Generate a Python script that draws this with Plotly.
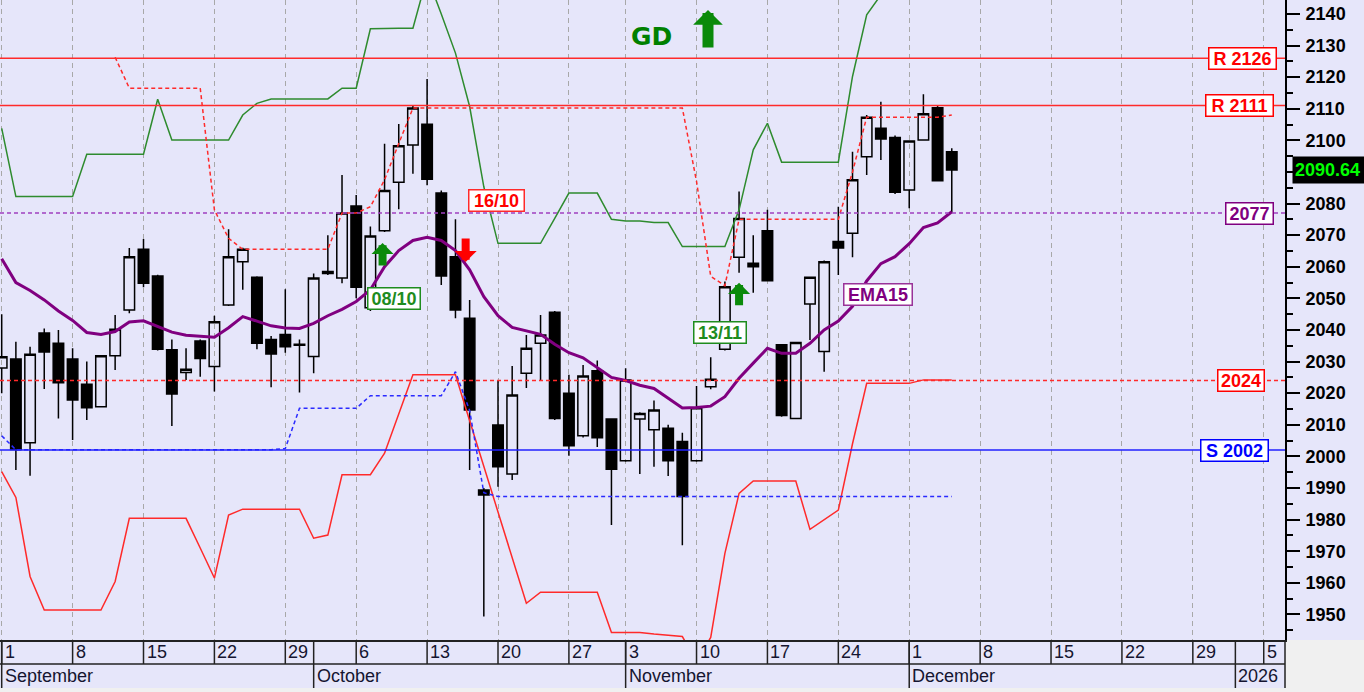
import pandas as pd
import plotly.graph_objects as go

# ---------------- data ----------------
ticker = "GD"
holidays = ["2025-10-28"]
calendar = pd.bdate_range("2025-09-01", "2026-01-09", freq="C", holidays=holidays)
cal_index = {d.strftime("%Y-%m-%d"): i for i, d in enumerate(calendar)}

opens = [2028, 2030.8, 2004.3, 2039, 2035.8, 2030.8, 2022.8, 2015.7, 2031.8, 2046.3,
         2065.5, 2057.1, 2033.7, 2026.5, 2036.5, 2028.4, 2047.9, 2061.6, 2056.7, 2037,
         2038.6, 2035.5, 2031.6, 2058.5, 2056.4, 2079.2, 2047, 2071.4, 2086.7, 2098.5,
         2105.1, 2083.3, 2063.2, 2043.7, 1989.4, 2009.9, 1994.4, 2026.3, 2035.8, 2045.6,
         2020, 2006.5, 2027.1, 2011.8, 1998.6, 2011.8, 2008.4, 2008.9, 2004.7, 1998.6,
         2022, 2033.9, 2063, 2061.1, 2071.4, 2035.3, 2012, 2048.2, 2033.2, 2068,
         2070.6, 2094.8, 2103.8, 2100.9, 2084.3, 2100.1, 2110.3, 2096.4]
highs = [2045, 2036.3, 2034.7, 2040.5, 2040, 2034.2, 2030, 2032, 2044.7, 2065.9,
         2068.8, 2057.5, 2037, 2034.2, 2037, 2044.5, 2071.9, 2066, 2057, 2038.1,
         2052.9, 2037, 2057.9, 2070, 2089, 2082.7, 2072.7, 2098.9, 2105.2, 2110.9,
         2119.4, 2084.1, 2075, 2049.5, 1990, 2024.2, 2028.6, 2038.4, 2044.7, 2046,
         2025.8, 2028.9, 2030.3, 2012, 2027.9, 2014, 2017.7, 2010, 2007.5, 2022.3,
         2031.4, 2055.3, 2083.8, 2070, 2078, 2035.5, 2036.2, 2056.9, 2062, 2079,
         2096.4, 2108, 2112.2, 2101.5, 2100, 2114.6, 2111, 2097.5]
lows = [2020, 1995.7, 1993.9, 2021.3, 2012, 2005.2, 2011.5, 2015.5, 2027.3, 2045.3,
        2053.5, 2033.5, 2009.6, 2024.2, 2025.2, 2020.5, 2047.6, 2052.7, 2033.9, 2021.9,
        2032.8, 2020.2, 2026.3, 2057.4, 2054.8, 2050, 2046, 2071, 2078.2, 2089.4,
        2085.8, 2054.2, 2043.7, 1995.7, 1949.3, 1990.4, 1992.5, 2021.6, 2024.2, 2011.5,
        2000.2, 2006, 2003, 1978.3, 1998.3, 1994.4, 1996.7, 1993.8, 1971.9, 1998.3,
        2021.2, 2033.5, 2058.1, 2051.8, 2055.3, 2012.5, 2011.8, 2036.8, 2026.8, 2057.4,
        2063, 2089, 2093.8, 2083, 2078.5, 2099.9, 2087, 2077]
closes = [2031.5, 2002.2, 2032.3, 2033, 2023.3, 2017.8, 2015.4, 2031.8, 2040.2, 2063.2,
          2054.8, 2033.9, 2019.7, 2027.6, 2031, 2042.6, 2063.2, 2065.5, 2035.8, 2032.4,
          2034.7, 2035.2, 2056.4, 2057.9, 2077, 2053.5, 2069.7, 2084.1, 2098.3, 2110.2,
          2087.7, 2057.1, 2046.3, 2014.7, 1987.8, 1996.7, 2019.4, 2034.2, 2038.4, 2012,
          2003.4, 2025.4, 2005.9, 1995.9, 2024.2, 2013.6, 2014.7, 1998.6, 1987.3, 2015.4,
          2024.4, 2053.7, 2075.3, 2060, 2055.6, 2012.9, 2036, 2056.7, 2061.6, 2065.9,
          2087.5, 2107.3, 2100.4, 2083.6, 2099.8, 2108.4, 2087.2, 2090.64]

ema15 = [2062.5, 2055, 2052.5, 2049.5, 2046, 2043, 2039.2, 2038.6, 2039.5, 2042.5,
         2042.9, 2041.2, 2039.3, 2038.3, 2037.9, 2037.7, 2040.7, 2044.2, 2042.8, 2041.3,
         2040.6, 2040.5, 2042.1, 2044.5, 2046.5, 2049, 2052.7, 2060, 2065.1, 2068.3,
         2069.3, 2068.3, 2065.1, 2059, 2050.5, 2044.5, 2040.8, 2039.6, 2038.6, 2035.5,
         2032.8, 2031.2, 2028.2, 2025, 2024, 2022.5, 2021.5, 2018.5, 2015.3, 2015.5,
         2015.9, 2018.9, 2024.7, 2029.5, 2034.2, 2032.6, 2032.6, 2035.8, 2040, 2042.8,
         2047.5, 2055.5, 2061, 2063.2, 2067.3, 2072.4, 2073.9, 2077.4]
upper_band = [2103.8, 2082.2, 2082.2, 2082.2, 2082.2, 2082.2, 2095.6, 2095.6, 2095.6, 2095.6,
              2095.6, 2113, 2100.1, 2100.1, 2100.1, 2100.1, 2100.1, 2108, 2111.7, 2113.1,
              2113.1, 2113.1, 2113.1, 2113.1, 2116.5, 2116.5, 2135.3, 2135.5, 2135.5, 2135.5,
              2151.8, 2140, 2127.6, 2110.7, 2085.3, 2067.4, 2067.4, 2067.4, 2067.4, 2075.3,
              2083.3, 2083.3, 2083.3, 2075, 2074.5, 2074.5, 2074, 2074, 2066.4, 2066.4,
              2066.4, 2066.4, 2078, 2097, 2105.4, 2093.1, 2093.1, 2093.1, 2093.1, 2093.1,
              2120.2, 2139.7, 2146, 2150, 2152, 2153, 2153, 2153]
lower_band = [1995.2, 1987, 1962, 1951.4, 1951.4, 1951.4, 1951.4, 1951.4, 1960.4, 1980.4,
              1980.4, 1980.4, 1980.4, 1980.4, 1971, 1961.5, 1981.4, 1983.3, 1983.3, 1983.3,
              1983.3, 1983.3, 1974.1, 1975.1, 1994.2, 1994.2, 1994.2, 2001, 2013.4, 2025.8,
              2025.8, 2025.8, 2025.8, 2011.3, 1996.9, 1982.5, 1968, 1953.5, 1957, 1957,
              1957, 1957, 1957, 1944.3, 1944.3, 1944.3, 1943.8, 1943.5, 1943, 1935,
              1942.7, 1969.3, 1988.3, 1992.2, 1992.2, 1992.2, 1992.2, 1976.9, 1980, 1983,
              2004, 2023.1, 2023.1, 2023.1, 2023.1, 2024.2, 2024.2, 2024.2]
resistance_trail = [None, None, None, None, None, None, None, None, 2126.3, 2116.5,
                    2116.5, 2116.5, 2116.5, 2116.5, 2116.5, 2078, 2069, 2065.5, 2065.5, 2065.5,
                    2065.5, 2065.5, 2065.5, 2065.5, 2077, 2077, 2079, 2087.5, 2099, 2110.2,
                    2110.2, 2110.2, 2110.2, 2110.2, 2110.2, 2110.2, 2110.2, 2110.2, 2110.2, 2110.2,
                    2110.2, 2110.2, 2110.2, 2110.2, 2110.2, 2110.2, 2110.2, 2110.2, 2110.2, 2087,
                    2057, 2054, 2075, 2075, 2075, 2075, 2075, 2075, 2075, 2075,
                    2090, 2107.3, 2107.3, 2107.3, 2107.3, 2107.3, 2107.3, 2108]
support_trail = [2006.5, 2002.1, 2002.1, 2002.1, 2002.1, 2002.1, 2002.1, 2002.1, 2002.1, 2002.1,
                 2002.1, 2002.1, 2002.1, 2002.1, 2002.1, 2002.1, 2002.1, 2002.1, 2002.1, 2002.1,
                 2002.5, 2015.2, 2015.2, 2015.2, 2015.2, 2015.2, 2019.2, 2019.2, 2019.2, 2019.2,
                 2019.2, 2019.2, 2026.8, 2014.5, 1988.5, 1987.3, 1987.3, 1987.3, 1987.3, 1987.3,
                 1987.3, 1987.3, 1987.3, 1987.3, 1987.3, 1987.3, 1987.3, 1987.3, 1987.3, 1987.3,
                 1987.3, 1987.3, 1987.3, 1987.3, 1987.3, 1987.3, 1987.3, 1987.3, 1987.3, 1987.3,
                 1987.3, 1987.3, 1987.3, 1987.3, 1987.3, 1987.3, 1987.3, 1987.3]

levels = [2126, 2111, 2077, 2024, 2002]
level_labels = ["R 2126", "R 2111", "2077", "2024", "S 2002"]

week_ticks = ["2025-09-01", "2025-09-08", "2025-09-15", "2025-09-22", "2025-09-29",
              "2025-10-06", "2025-10-13", "2025-10-20", "2025-10-27", "2025-11-03",
              "2025-11-10", "2025-11-17", "2025-11-24", "2025-12-01", "2025-12-08",
              "2025-12-15", "2025-12-22", "2025-12-29", "2026-01-05"]
week_labels = ["1", "8", "15", "22", "29", "6", "13", "20", "27", "3",
               "10", "17", "24", "1", "8", "15", "22", "29", "5"]
month_starts = ["2025-09-01", "2025-10-01", "2025-11-03", "2025-12-01", "2026-01-01"]
month_labels = ["September", "October", "November", "December", "2026"]

signal_dates = ["2025-10-08", "2025-10-16", "2025-11-13"]
signal_dirs = ["up", "down", "up"]
signal_prices = [2067.5, 2061.5, 2054.9]
signal_labels = ["08/10", "16/10", "13/11"]

# ---------------- figure ----------------
dates = [d.strftime("%Y-%m-%d") for d in calendar[:len(closes)]]
xs = [cal_index[d] for d in dates]

FONT = "Liberation Sans, Arial, sans-serif"
LAV = "#E6E6FA"
GRID_H = 640.0
ROW = 24.0 / GRID_H

fig = go.Figure()
fig.add_trace(go.Candlestick(
    x=xs, open=opens, high=highs, low=lows, close=closes,
    increasing=dict(line=dict(color="black", width=1.5), fillcolor="rgba(0,0,0,0)"),
    decreasing=dict(line=dict(color="black", width=1.5), fillcolor="black"),
    whiskerwidth=0, showlegend=False, name=ticker))

fig.add_trace(go.Scatter(x=xs, y=upper_band, mode="lines",
                         line=dict(color="#2E8B2E", width=1.5), showlegend=False))
fig.add_trace(go.Scatter(x=xs, y=lower_band, mode="lines",
                         line=dict(color="#FF2A2A", width=1.5), showlegend=False))
fig.add_trace(go.Scatter(x=xs, y=resistance_trail, mode="lines",
                         line=dict(color="#FF2A2A", width=1.5, dash="4px,3px"), showlegend=False))
fig.add_trace(go.Scatter(x=xs, y=support_trail, mode="lines",
                         line=dict(color="#2A2AFF", width=1.5, dash="4px,3px"), showlegend=False))
fig.add_trace(go.Scatter(x=xs, y=ema15, mode="lines",
                         line=dict(color="#800080", width=3), showlegend=False))

# horizontal levels and their labels
level_styles = [
    dict(color="#FF2A2A", dash="solid", txt="#FF0000", right=1277, w=64),
    dict(color="#FF2A2A", dash="solid", txt="#FF0000", right=1274, w=64),
    dict(color="#A040C0", dash="4px,3px", txt="#800080", right=1274, w=44),
    dict(color="#FF2A2A", dash="4px,3px", txt="#FF0000", right=1265, w=43),
    dict(color="#2020FF", dash="solid", txt="#0000FF", right=1269, w=64),
]
for lv, lab, st in zip(levels, level_labels, level_styles):
    fig.add_shape(type="line", xref="paper", x0=0, x1=1, yref="y", y0=lv, y1=lv,
                  line=dict(color=st["color"], width=1.5, dash=st["dash"]), layer="above")
    fig.add_annotation(xref="paper", x=st["right"] / 1285.0, yref="y", y=lv,
                       xanchor="right", yanchor="middle", text=lab, showarrow=False,
                       font=dict(family=FONT, size=18, color=st["txt"], weight="bold"),
                       bgcolor="white", bordercolor=st["txt"], borderwidth=1.5,
                       borderpad=1, width=st["w"], height=18)

# signal arrows and date labels
label_shift = {"08/10": (9, -55), "16/10": (27, 62), "13/11": (-19, -50)}
arrow_shift = {"08/10": -2, "16/10": -4, "13/11": 0}
for d, dr, p, lab in zip(signal_dates, signal_dirs, signal_prices, signal_labels):
    col = "#0A8A0A" if dr == "up" else "#FF0000"
    fig.add_annotation(x=cal_index[d], y=p, xref="x", yref="y", text="",
                       showarrow=True, ax=0, ay=24 if dr == "up" else -25,
                       arrowhead=1, arrowsize=0.46, arrowwidth=8, arrowcolor=col,
                       xshift=arrow_shift[lab])
    dx, dy = label_shift[lab]
    fig.add_annotation(x=cal_index[d], y=p, xref="x", yref="y", text=lab, showarrow=False,
                       xshift=dx, yshift=dy,
                       font=dict(family=FONT, size=18, color="#1E8C1E" if dr == "up" else "#FF0000",
                                 weight="bold"),
                       bgcolor="white", bordercolor="#1E8C1E" if dr == "up" else "#FF2A2A",
                       borderwidth=1.5, borderpad=1, width=49 if lab != "16/10" else 52, height=18)

# EMA15 label
fig.add_annotation(x=xs[61], y=ema15[61], xref="x", yref="y", text="EMA15", showarrow=False,
                   xshift=11, yshift=-14,
                   font=dict(family=FONT, size=18, color="#800080", weight="bold"),
                   bgcolor="white", bordercolor="#993399", borderwidth=1.5, borderpad=1,
                   width=65, height=18)

# ticker title with arrow
fig.add_annotation(xref="paper", yref="paper", x=651 / 1285.0, y=1 - 36 / GRID_H,
                   xanchor="center", yanchor="middle",
                   text="<b>%s</b>" % ticker, showarrow=False,
                   font=dict(family="DejaVu Sans", size=25, color="#008000"))
fig.add_annotation(xref="paper", yref="paper", x=708 / 1285.0, y=1 - 10 / GRID_H, text="",
                   showarrow=True, ax=0, ay=39, arrowhead=1, arrowsize=0.45, arrowwidth=11,
                   arrowcolor="#0A8A0A")

# last value box
fig.add_annotation(xref="paper", x=1292 / 1285.0, yref="y", y=closes[-1],
                   text="%.2f" % closes[-1], showarrow=False, xanchor="left", yanchor="middle",
                   align="left", font=dict(family=FONT, size=18, color="#00FF00", weight="bold"),
                   bgcolor="black", borderpad=2, width=68, height=22)

# ---------------- date axis rows ----------------
fig.add_shape(type="rect", xref="paper", yref="paper", x0=1, x1=1.1, y0=-0.2, y1=0,
              fillcolor="#F0F0F0", line=dict(width=0), layer="below")
fig.add_shape(type="rect", xref="paper", yref="paper", x0=-0.1, x1=1.1, y0=-0.2, y1=-2 * ROW,
              fillcolor="#F0F0F0", line=dict(width=0), layer="below")
fig.add_shape(type="line", xref="paper", yref="paper", x0=0, x1=1, y0=-ROW, y1=-ROW,
              line=dict(color="#222222", width=1.5))
fig.add_shape(type="line", xref="paper", yref="paper", x0=1, x1=1, y0=0, y1=-2 * ROW,
              line=dict(color="#222222", width=1.5))
for d, lab in zip(week_ticks, week_labels):
    xi = cal_index[d]
    fig.add_shape(type="line", xref="x", yref="paper", x0=xi, x1=xi, y0=0, y1=-ROW,
                  line=dict(color="#222222", width=1.5))
    fig.add_annotation(xref="x", yref="paper", x=xi, y=-ROW / 2, text=lab, showarrow=False,
                       xanchor="left", yanchor="middle", xshift=1,
                       font=dict(family=FONT, size=18, color="#151530"))
for d, lab in zip(month_starts, month_labels):
    xi = cal_index[d]
    fig.add_shape(type="line", xref="x", yref="paper", x0=xi, x1=xi, y0=0, y1=-2 * ROW,
                  line=dict(color="#222222", width=1.5))
    fig.add_annotation(xref="x", yref="paper", x=xi, y=-1.5 * ROW, text=lab, showarrow=False,
                       xanchor="left", yanchor="middle", xshift=1,
                       font=dict(family=FONT, size=18, color="#151530"))

fig.update_layout(
    width=1364, height=692,
    margin=dict(l=0, r=79, t=0, b=52, autoexpand=False),
    paper_bgcolor=LAV, plot_bgcolor=LAV,
    boxgap=0.14, boxgroupgap=0.14,
    showlegend=False,
    xaxis=dict(range=[-0.12, 90.5], tickvals=[cal_index[d] for d in week_ticks],
               showticklabels=False, ticks="", showgrid=True, gridcolor="#A8A8A8",
               griddash="5px,4px", gridwidth=1, zeroline=False, showline=True,
               linecolor="#222222", linewidth=2, rangeslider=dict(visible=False),
               fixedrange=True),
    yaxis=dict(range=[1941.9, 2144.4], side="right", tick0=1950, dtick=10,
               ticks="outside", ticklen=13, tickwidth=2, tickcolor="black",
               minor=dict(dtick=5, tick0=1945, ticks="outside", ticklen=6, tickwidth=2,
                          tickcolor="black", showgrid=False),
               showgrid=False, zeroline=False, showline=True, linecolor="black", linewidth=2,
               tickfont=dict(family=FONT, size=18, color="black", weight="bold"),
               ticklabelstandoff=2, fixedrange=True),
)

fig.write_html("out.html", config={"displayModeBar": False},
               post_script="document.body.style.margin='0px';document.body.style.overflow='hidden';")
